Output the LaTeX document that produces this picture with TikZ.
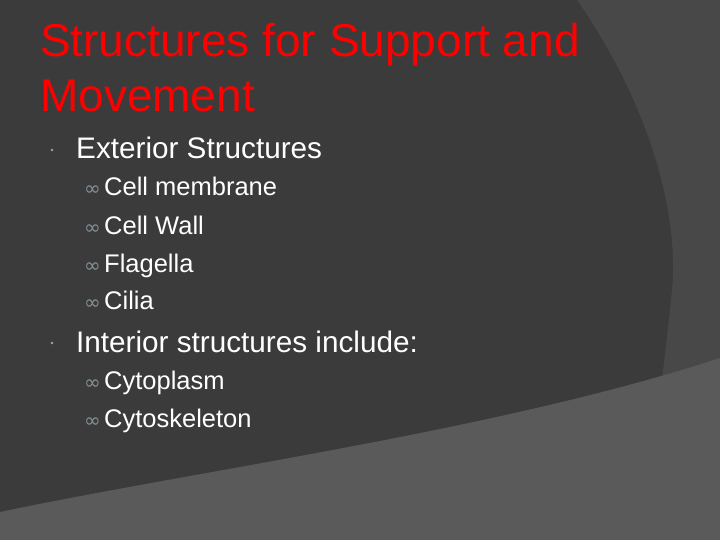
\documentclass[tikz,border=0pt]{standalone}
\usepackage{fontspec}
\setmainfont{Liberation Sans}
\newfontfamily\symf{DejaVu Sans}
\begin{document}
\begin{tikzpicture}[x=1pt,y=-1pt,
  lvone/.style={anchor=base west,text=white,font=\fontsize{29.7}{32}\selectfont,inner sep=0},
  lvtwo/.style={anchor=base west,text=white,font=\fontsize{25.5}{28}\selectfont,inner sep=0},
  bul/.style={anchor=base west,text=black!30!cyan!20!gray,font=\symf\fontsize{20}{22}\selectfont,inner sep=0}]
\definecolor{bgA}{HTML}{3B3B3B}
\definecolor{bgB}{HTML}{484848}
\definecolor{bgC}{HTML}{5A5A5A}
\useasboundingbox (0,0) rectangle (720,540);
\fill[bgA] (0,0) rectangle (720,540);
\fill[bgB] (577,0) .. controls (640,90) and (680,200) .. (672,290) .. controls (668,330) and (664,360) .. (660,400) -- (720,400) -- (720,0) -- cycle;
\fill[bgC] (0,512) .. controls (200,470) and (500,430) .. (720,358) -- (720,540) -- (0,540) -- cycle;
\node[anchor=base west,text=red,font=\fontsize{46}{55}\selectfont,inner sep=0] (title) at (40,57) {Structures for Support and};
\node[anchor=base west,text=red,font=\fontsize{46}{55}\selectfont,inner sep=0] (title2) at (40,112) {Movement};
\fill[gray!70] (52,150) circle (1.3);
\node[lvone] (ext) at (76,159) {Exterior Structures};
\node[bul] (b1) at (84,196) {∞}; \node[lvtwo] (cm) at (104,196) {Cell membrane};
\node[bul] (b2) at (84,235) {∞}; \node[lvtwo] (cw) at (104,235) {Cell Wall};
\node[bul] (b3) at (84,272) {∞}; \node[lvtwo] (fl) at (104,272) {Flagella};
\node[bul] (b4) at (84,309) {∞}; \node[lvtwo] (ci) at (104,309) {Cilia};
\fill[gray!70] (52,343) circle (1.3);
\node[lvone] (int) at (76,352) {Interior structures include:};
\node[bul] (b5) at (84,389) {∞}; \node[lvtwo] (cy) at (104,389) {Cytoplasm};
\node[bul] (b6) at (84,427) {∞}; \node[lvtwo] (cs) at (104,427) {Cytoskeleton};
\end{tikzpicture}
\end{document}
